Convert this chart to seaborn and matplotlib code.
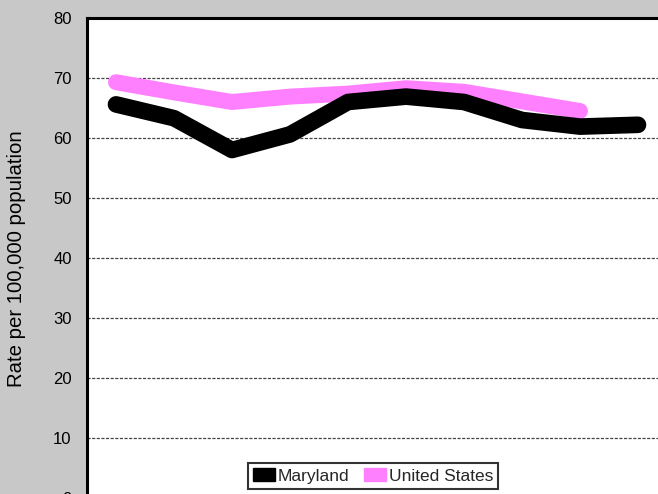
import pandas as pd
import matplotlib
matplotlib.use("Agg")
import matplotlib.pyplot as plt
import matplotlib.patches as mpatches
import seaborn as sns

# valori (etichette anni tagliate nell'immagine)
years = ["1990", "1991", "1992", "1993", "1994", "1995", "1996", "1997", "1998", "1999"]
maryland = [65.6, 63.3, 58.0, 60.6, 66.0, 66.9, 66.0, 63.0, 61.9, 62.2]
united_states = [69.3, 67.6, 66.0, 66.9, 67.4, 68.3, 67.7, 66.1, 64.5]

df = pd.concat([
    pd.DataFrame({"year": years[:len(maryland)], "rate": maryland, "area": "Maryland"}),
    pd.DataFrame({"year": years[:len(united_states)], "rate": united_states, "area": "United States"}),
])
df["pos"] = df["year"].map({y: i for i, y in enumerate(years)})

sns.set_style("white")
plt.rcParams["font.family"] = ["Liberation Sans", "DejaVu Sans"]

fig = plt.figure(figsize=(6.58, 4.94), dpi=100, facecolor="#c8c8c8")
ax = fig.add_axes([87 / 658, -4 / 494, 580 / 658, 480 / 494])
ax.set_facecolor("white")

# griglia tratteggiata ogni 10
for v in range(10, 80, 10):
    ax.axhline(v, color="#444444", linestyle=(0, (2.5, 1.2)), linewidth=0.9, zorder=0)

palette = {"Maryland": "black", "United States": "#ff80ff"}
us = df[df["area"] == "United States"]
md = df[df["area"] == "Maryland"]
sns.lineplot(data=us, x="pos", y="rate", color=palette["United States"], linewidth=11.5,
             solid_capstyle="round", solid_joinstyle="round", ax=ax, zorder=2)
sns.lineplot(data=md, x="pos", y="rate", color=palette["Maryland"], linewidth=12,
             solid_capstyle="round", solid_joinstyle="round", ax=ax, zorder=3)

ax.set_xlim(-0.5, len(years) - 0.5)
ax.set_ylim(0, 80)
ax.set_yticks(range(0, 81, 10))
ax.set_xticks([])
ax.tick_params(axis="y", length=0, pad=11, labelsize=12, colors="black")
ax.set_xlabel("")
ax.set_ylabel("Rate per 100,000 population", fontsize=14.7, color="black", va="center")
ax.yaxis.set_label_coords((17 - 87) / 580, (498 - 259) / 480)
for s in ax.spines.values():
    s.set_color("black")
    s.set_linewidth(2.2)

handles = [mpatches.Patch(color=palette[k], label=k) for k in ["Maryland", "United States"]]
leg = fig.legend(handles=handles, loc="lower center", bbox_to_anchor=(373 / 658, 1 - 489 / 494),
                 ncol=2, frameon=True, fancybox=False, fontsize=12.5, handlelength=1.3,
                 handleheight=0.8, handletextpad=0.15, columnspacing=0.8, borderpad=0.3,
                 borderaxespad=0)
leg.get_frame().set_edgecolor("black")
leg.get_frame().set_linewidth(1.5)

fig.savefig("out.png", dpi=100, facecolor=fig.get_facecolor())
